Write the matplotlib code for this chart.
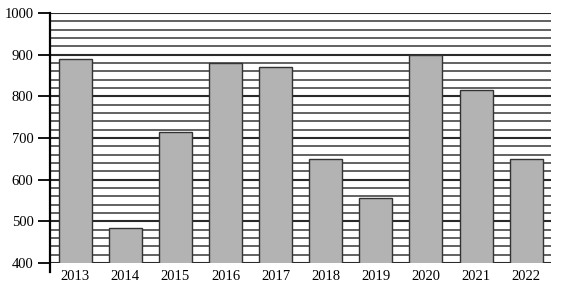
import matplotlib
matplotlib.use("Agg")
import matplotlib.pyplot as plt

years = ["2013", "2014", "2015", "2016", "2017", "2018", "2019", "2020", "2021", "2022"]
values = [890, 485, 715, 880, 870, 650, 555, 900, 815, 650]
y_ticks = [400, 500, 600, 700, 800, 900, 1000]

plt.rcParams["font.family"] = ["Liberation Serif", "DejaVu Serif"]

fig = plt.figure(figsize=(5.76, 2.91), dpi=100)
ax = fig.add_axes([0.087, 0.096, 0.870, 0.859])

# horizontal rules every 20 units, a bit darker on the hundreds
for y in range(400, 1001, 20):
    if y % 100 == 0:
        ax.axhline(y, color="#2a2a2a", linewidth=1.5, zorder=1)
    else:
        ax.axhline(y, color="#555555", linewidth=1.3, zorder=1)

x = list(range(len(years)))
ax.bar(x, values, width=0.66, color="#b3b3b3", edgecolor="#333333",
       linewidth=1.0, zorder=2)

ax.set_xlim(-0.5, len(years) - 0.5)
ax.set_ylim(400, 1000)
ax.set_yticks(y_ticks)
ax.set_xticks(x)
ax.set_xticklabels(years)

for side in ["top", "right", "bottom", "left"]:
    ax.spines[side].set_visible(False)
ax.axvline(-0.5, ymin=-0.035, ymax=1.0, color="black", linewidth=1.6,
           clip_on=False, zorder=3)

ax.tick_params(axis="y", length=9, width=1.3, color="black", labelsize=10.5, pad=3)
ax.tick_params(axis="x", length=0, labelsize=10.5, pad=5)

fig.savefig("out.png", dpi=100)
